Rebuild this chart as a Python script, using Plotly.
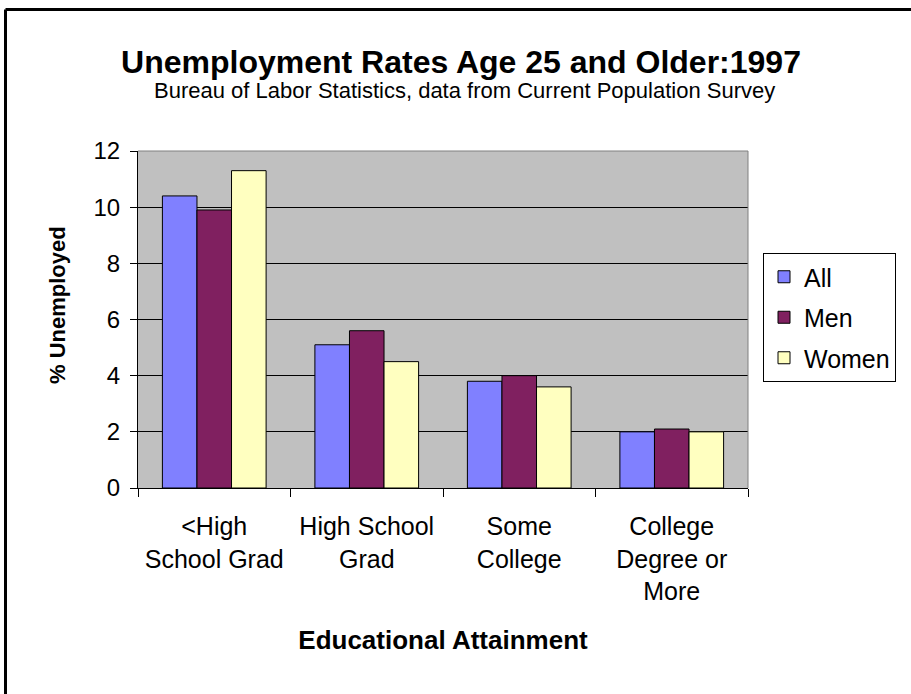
import plotly.graph_objects as go

categories = ["<High School Grad", "High School Grad", "Some College", "College Degree or More"]
tick_labels = ["&lt;High<br>School Grad", "High School<br>Grad", "Some<br>College", "College<br>Degree or<br>More"]
series_names = ["All", "Men", "Women"]
all_vals = [10.4, 5.1, 3.8, 2.0]
men_vals = [9.9, 5.6, 4.0, 2.1]
women_vals = [11.3, 4.5, 3.6, 2.0]
colors = ["#8080ff", "#802060", "#ffffc0"]
y_ticks = [0, 2, 4, 6, 8, 10, 12]

FONT = "Arial, Liberation Sans, sans-serif"

fig = go.Figure()
for i, (name, vals) in enumerate(zip(series_names, [all_vals, men_vals, women_vals])):
    fig.add_trace(go.Bar(
        x=categories, y=vals, name=name, legendgroup=name,
        marker=dict(color=colors[i], line=dict(color="black", width=1)),
    ))

W, H = 911, 694
L, R, T, B = 138, 163, 151, 206
pw, ph = W - L - R, H - T - B

def px(x):
    return (x - L) / pw

def py(y):
    return (H - B - y) / ph

fig.update_layout(
    width=W, height=H,
    margin=dict(l=L, r=R, t=T, b=B, pad=0),
    paper_bgcolor="white", plot_bgcolor="#c0c0c0",
    font=dict(family=FONT, color="black"),
    barmode="group", bargap=0.32, bargroupgap=0,
    title=dict(text="<b>Unemployment Rates Age 25 and Older:1997</b>",
               x=461 / W, xanchor="center", xref="container",
               y=1 - 62 / H, yanchor="middle", yref="container",
               font=dict(size=32, family=FONT, color="black")),
    showlegend=True,
    legend=dict(x=px(763), xanchor="left", y=py(253), yanchor="top",
                bordercolor="black", borderwidth=1, bgcolor="white",
                font=dict(size=25, family=FONT), tracegroupgap=5,
                traceorder="grouped"),
    xaxis=dict(type="category", tickmode="array", tickvals=categories, ticktext=tick_labels,
               tickson="boundaries", ticks="outside", ticklen=8, tickcolor="black",
               showline=True, linecolor="black", linewidth=1,
               showgrid=False, tickfont=dict(size=25, family=FONT),
               ticklabelstandoff=16,
               title=dict(text="<b>Educational Attainment</b>", font=dict(size=26, family=FONT), standoff=26)),
    yaxis=dict(range=[0, 12], tickmode="array", tickvals=y_ticks,
               ticks="outside", ticklen=7, tickcolor="black",
               showline=True, linecolor="black", linewidth=1,
               showgrid=True, gridcolor="black", gridwidth=1,
               zeroline=False, tickfont=dict(size=24, family=FONT),
               ticklabelstandoff=5),
)

fig.add_annotation(text="Bureau of Labor Statistics, data from Current Population Survey",
                   xref="paper", yref="paper", x=px(464), y=py(90),
                   xanchor="center", yanchor="middle", showarrow=False,
                   font=dict(size=22, family=FONT, color="black"))
fig.add_annotation(text="<b>% Unemployed</b>", textangle=-90,
                   xref="paper", yref="paper", x=px(57), y=py(305),
                   xanchor="center", yanchor="middle", showarrow=False,
                   font=dict(size=22, family=FONT, color="black"))

# plot-area gray border on top and right
fig.add_shape(type="line", xref="paper", yref="paper", x0=0, x1=1, y0=1, y1=1,
              line=dict(color="#808080", width=1), layer="above")
fig.add_shape(type="line", xref="paper", yref="paper", x0=1, x1=1, y0=0, y1=1,
              line=dict(color="#808080", width=1), layer="above")
# outer chart frame (left and top edges visible)
fig.add_shape(type="line", xref="paper", yref="paper", x0=px(5.5), x1=px(930), y0=py(9.5), y1=py(9.5),
              line=dict(color="black", width=3), layer="above")
fig.add_shape(type="line", xref="paper", yref="paper", x0=px(5.5), x1=px(5.5), y0=py(9.5), y1=py(710),
              line=dict(color="black", width=3), layer="above")

fig.write_html("out.html")
